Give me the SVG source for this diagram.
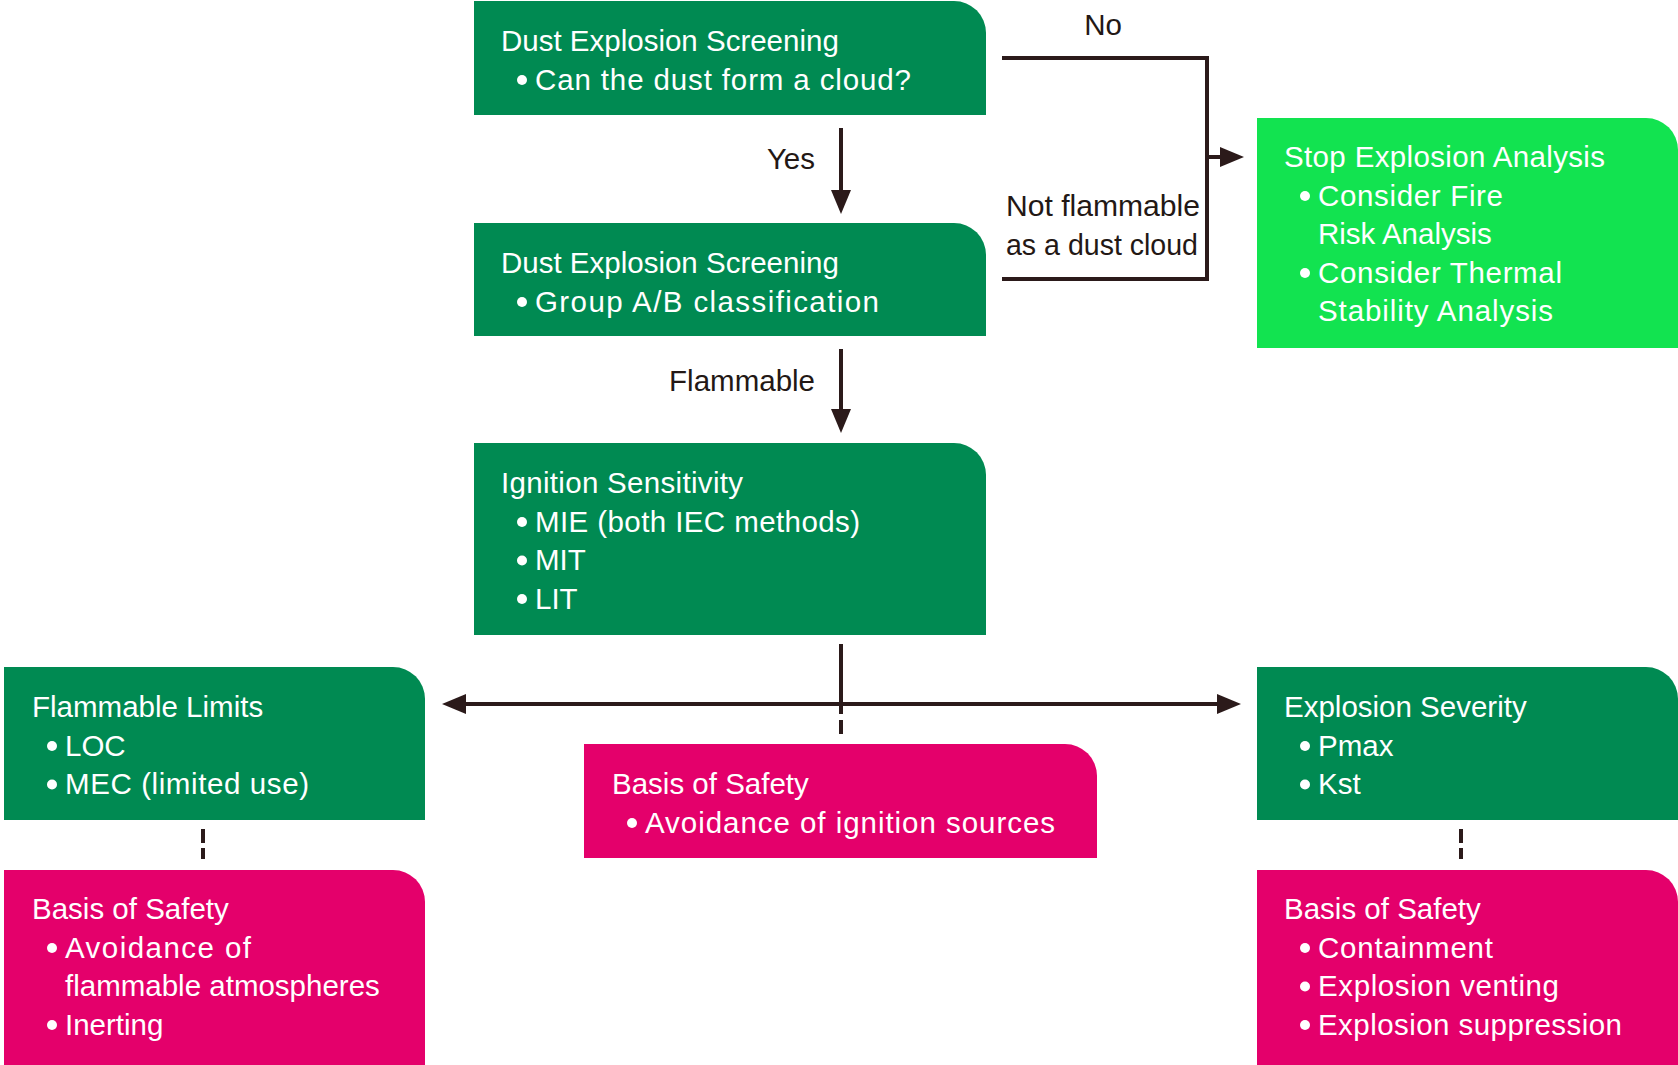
<svg xmlns="http://www.w3.org/2000/svg" width="1678" height="1065" viewBox="0 0 1678 1065">
  <style>
    .box-dark { fill: #008a52; }
    .box-bright { fill: #12e350; }
    .box-safety { fill: #e4006b; }
    .t { font-family: "Liberation Sans", Arial, sans-serif; font-size: 29.5px; fill: #ffffff; }
    .lbl { font-family: "Liberation Sans", Arial, sans-serif; font-size: 29.5px; fill: #231815; }
    .dot { fill: #ffffff; }
    .wire { fill: none; stroke: #2b1a1a; stroke-width: 4; }
  </style>
  <defs>
    <marker id="arrow" viewBox="0 0 24 20" refX="0" refY="10" markerWidth="24" markerHeight="20" markerUnits="userSpaceOnUse" orient="auto-start-reverse">
      <path d="M0,0 L24,10 L0,20 Z" fill="#2b1a1a"/>
    </marker>
  </defs>

  <rect width="1678" height="1065" fill="#ffffff"/>

  <!-- connectors -->
  <g id="connectors">
    <path class="wire" d="M841,128 V190" marker-end="url(#arrow)"/>
    <path class="wire" d="M841,349 V409" marker-end="url(#arrow)"/>
    <path class="wire" d="M1002,58 H1207 V279 H1002"/>
    <path class="wire" d="M1207,157 H1220" marker-end="url(#arrow)"/>
    <path class="wire" d="M841,644 V714"/>
    <path class="wire" d="M841,720 V734"/>
    <path class="wire" d="M466,704 H1217" marker-start="url(#arrow)" marker-end="url(#arrow)"/>
    <path class="wire" d="M203,829 V843 M203,848 V859"/>
    <path class="wire" d="M1461,829 V843 M1461,848 V859"/>
    <text class="lbl" x="1103" y="35" text-anchor="middle">No</text>
    <text class="lbl" x="815" y="169" text-anchor="end">Yes</text>
    <text class="lbl" x="815" y="391" text-anchor="end">Flammable</text>
    <text class="lbl" x="1006" y="216" textLength="194" lengthAdjust="spacingAndGlyphs">Not flammable</text>
    <text class="lbl" x="1006" y="255" textLength="192" lengthAdjust="spacingAndGlyphs">as a dust cloud</text>
  </g>

  <!-- Dust explosion screening: cloud formation -->
  <g id="screen-cloud">
    <path class="box-dark" d="M474,1 H954 A32,32 0 0 1 986,33 V115 H474 Z"/>
    <text class="t" x="501" y="51">Dust Explosion Screening</text>
    <circle class="dot" cx="522" cy="80" r="5"/>
    <text class="t" x="535" y="89.5" textLength="376">Can the dust form a cloud?</text>
  </g>

  <!-- Dust explosion screening: classification -->
  <g id="screen-class">
    <path class="box-dark" d="M474,223 H954 A32,32 0 0 1 986,255 V336 H474 Z"/>
    <text class="t" x="501" y="273">Dust Explosion Screening</text>
    <circle class="dot" cx="522" cy="302" r="5"/>
    <text class="t" x="535" y="311.5" textLength="344">Group A/B classification</text>
  </g>

  <!-- Ignition sensitivity -->
  <g id="ignition">
    <path class="box-dark" d="M474,443 H954 A32,32 0 0 1 986,475 V635 H474 Z"/>
    <text class="t" x="501" y="493" textLength="242">Ignition Sensitivity</text>
    <circle class="dot" cx="522" cy="522" r="5"/>
    <text class="t" x="535" y="531.5" textLength="325">MIE (both IEC methods)</text>
    <circle class="dot" cx="522" cy="560.5" r="5"/>
    <text class="t" x="535" y="570">MIT</text>
    <circle class="dot" cx="522" cy="599" r="5"/>
    <text class="t" x="535" y="608.5">LIT</text>
  </g>

  <!-- Stop explosion analysis -->
  <g id="stop">
    <path class="box-bright" d="M1257,118 H1646 A32,32 0 0 1 1678,150 V348 H1257 Z"/>
    <text class="t" x="1284" y="167" textLength="321">Stop Explosion Analysis</text>
    <circle class="dot" cx="1305" cy="196" r="5"/>
    <text class="t" x="1318" y="205.5" textLength="185">Consider Fire</text>
    <text class="t" x="1318" y="244">Risk Analysis</text>
    <circle class="dot" cx="1305" cy="273" r="5"/>
    <text class="t" x="1318" y="282.5" textLength="244">Consider Thermal</text>
    <text class="t" x="1318" y="321" textLength="235">Stability Analysis</text>
  </g>

  <!-- Flammable limits -->
  <g id="flam-limits">
    <path class="box-dark" d="M4,667 H393 A32,32 0 0 1 425,699 V820 H4 Z"/>
    <text class="t" x="32" y="717">Flammable Limits</text>
    <circle class="dot" cx="52" cy="746" r="5"/>
    <text class="t" x="65" y="755.5">LOC</text>
    <circle class="dot" cx="52" cy="784.5" r="5"/>
    <text class="t" x="65" y="794" textLength="244">MEC (limited use)</text>
  </g>

  <!-- Basis of safety: atmospheres -->
  <g id="bos-left">
    <path class="box-safety" d="M4,870 H393 A32,32 0 0 1 425,902 V1065 H4 Z"/>
    <text class="t" x="32" y="919">Basis of Safety</text>
    <circle class="dot" cx="52" cy="948" r="5"/>
    <text class="t" x="65" y="957.5" textLength="186">Avoidance of</text>
    <text class="t" x="65" y="996">flammable atmospheres</text>
    <circle class="dot" cx="52" cy="1025" r="5"/>
    <text class="t" x="65" y="1034.5">Inerting</text>
  </g>

  <!-- Basis of safety: ignition sources -->
  <g id="bos-center">
    <path class="box-safety" d="M584,744 H1065 A32,32 0 0 1 1097,776 V858 H584 Z"/>
    <text class="t" x="612" y="794">Basis of Safety</text>
    <circle class="dot" cx="632" cy="823" r="5"/>
    <text class="t" x="645" y="832.5" textLength="410">Avoidance of ignition sources</text>
  </g>

  <!-- Explosion severity -->
  <g id="severity">
    <path class="box-dark" d="M1257,667 H1646 A32,32 0 0 1 1678,699 V820 H1257 Z"/>
    <text class="t" x="1284" y="717">Explosion Severity</text>
    <circle class="dot" cx="1305" cy="746" r="5"/>
    <text class="t" x="1318" y="755.5">Pmax</text>
    <circle class="dot" cx="1305" cy="784.5" r="5"/>
    <text class="t" x="1318" y="794">Kst</text>
  </g>

  <!-- Basis of safety: explosion protection -->
  <g id="bos-right">
    <path class="box-safety" d="M1257,870 H1646 A32,32 0 0 1 1678,902 V1065 H1257 Z"/>
    <text class="t" x="1284" y="919">Basis of Safety</text>
    <circle class="dot" cx="1305" cy="948" r="5"/>
    <text class="t" x="1318" y="957.5" textLength="175">Containment</text>
    <circle class="dot" cx="1305" cy="986.5" r="5"/>
    <text class="t" x="1318" y="996" textLength="241">Explosion venting</text>
    <circle class="dot" cx="1305" cy="1025" r="5"/>
    <text class="t" x="1318" y="1034.5" textLength="304">Explosion suppression</text>
  </g>
</svg>
